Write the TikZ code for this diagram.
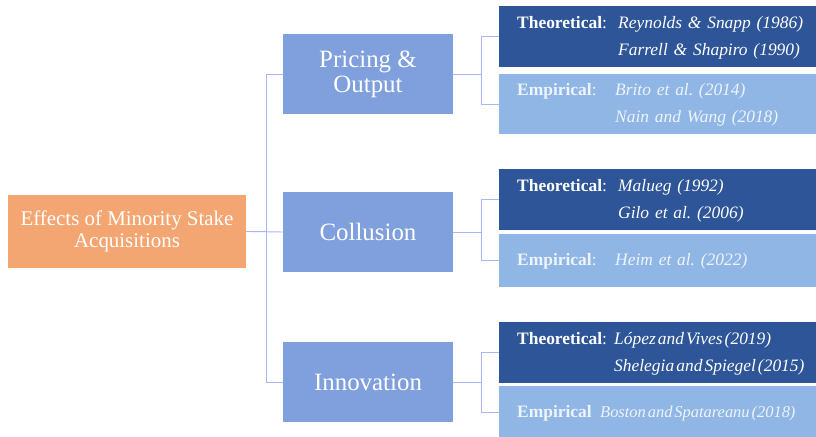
\documentclass[tikz,border=0pt]{standalone}
\usepackage{fontspec}
\setmainfont{Liberation Serif}
\usetikzlibrary{positioning, calc}
\definecolor{rootorange}{HTML}{F4A672}
\definecolor{midblue}{HTML}{7FA0DC}
\definecolor{theoblue}{HTML}{2D5597}
\definecolor{empblue}{HTML}{8FB6E4}
\definecolor{linkblue}{HTML}{A8B6F2}
\definecolor{emptext}{HTML}{EEF4FB}
\newcommand{\twocites}[4]{\begin{tabular}{@{}p{#1}@{}l@{}}#2 & \textit{#3}\\ & \textit{#4}\end{tabular}}
\newcommand{\onecite}[3]{\begin{tabular}{@{}p{#1}@{}l@{}}#2 & \textit{#3}\end{tabular}}
\newcommand{\tightsp}{\spaceskip=0.12em plus 0.05em\relax}

\begin{document}
\begin{tikzpicture}[x=1bp, y=-1bp,
  root/.style={fill=rootorange, text=white, align=center, minimum width=238bp, minimum height=73bp, font=\fontsize{21}{21.5}\selectfont},
  topic/.style={fill=midblue, text=white, align=center, minimum width=170bp, minimum height=80bp, font=\fontsize{25}{25}\selectfont},
  leafbox/.style={anchor=west, minimum width=317bp, inner xsep=18bp, text width=281bp, align=left, font=\fontsize{17.5}{27}\selectfont},
  theo/.style={leafbox, fill=theoblue, text=white},
  emp/.style={leafbox, fill=empblue, text=emptext},
  link/.style={draw=linkblue, line width=0.9bp}]
\useasboundingbox (0,0) rectangle (816,437);

% ---------------- LEFT: root ----------------
\node[root] (root) at (127,231.5) {Effects of Minority Stake\\Acquisitions};

% ---------------- MIDDLE: topics ----------------
\node[topic] (pricing) at (368,74) {Pricing \&\\Output};
\node[topic] (collusion) at (368,232) {Collusion};
\node[topic] (innovation) at (368,382) {Innovation};

% ---------------- RIGHT: literature ----------------
\node[theo, minimum height=61bp] (pricingT) at (499,36.5)
  {\twocites{101bp}{\textbf{Theoretical}:}{Reynolds \& Snapp (1986)}{Farrell \& Shapiro (1990)}};
\node[emp, minimum height=60bp] (pricingE) at (499,104)
  {\twocites{98bp}{\textbf{Empirical}:}{Brito et al.\ (2014)}{Nain and Wang (2018)}};
\node[theo, minimum height=54bp] (collusionT) at (499,199.5)
  {\twocites{101bp}{\textbf{Theoretical}:}{Malueg (1992)}{Gilo et al.\ (2006)}};
\node[emp, minimum height=53bp] (collusionE) at (499,260.5)
  {\onecite{98bp}{\textbf{Empirical}:}{Heim et al.\ (2022)}};
\node[theo, minimum height=55bp] (innovationT) at (499,352.5)
  {\tightsp\twocites{97bp}{\textbf{Theoretical}:}{López and Vives (2019)}{Shelegia and Spiegel (2015)}};
\node[emp, minimum height=51bp, font=\fontsize{16.5}{27}\selectfont] (innovationE) at (499,412)
  {\tightsp\onecite{83bp}{\fontsize{17.5}{27}\selectfont\textbf{Empirical}}{Boston and Spatareanu (2018)}};

% Connectors
\draw[link] (root.east) -- ++(20,0) |- (pricing.west);
\draw[link] (root.east) -- ++(20,0) |- (innovation.west);
\draw[link] (root.east) -- (collusion.west);
\foreach \t in {pricing, collusion, innovation} {
  \draw[link] (\t.east) -- ++(28,0) |- (\t T.west);
  \draw[link] (\t.east) -- ++(28,0) |- (\t E.west);
}
\end{tikzpicture}
\end{document}
